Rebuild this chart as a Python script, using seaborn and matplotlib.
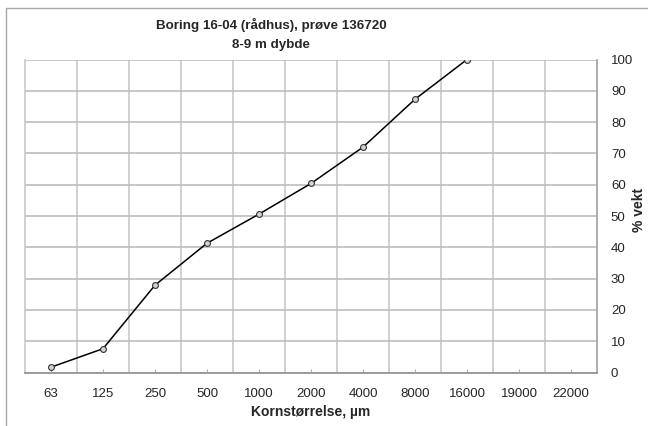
import matplotlib
matplotlib.use("Agg")
import matplotlib.pyplot as plt
import seaborn as sns
import pandas as pd
from matplotlib.patches import Rectangle

sns.set_theme(style="white")
plt.rcParams["font.family"] = ["Liberation Sans", "DejaVu Sans"]

# Sieve sizes (µm) shown on the category axis
sizes = ["63", "125", "250", "500", "1000", "2000", "4000", "8000", "16000", "19000", "22000"]
# Cumulative weight passing (%) for the measured sieves
passing = [1.7, 7.6, 27.9, 41.3, 50.6, 60.4, 72.0, 87.3, 100.0]

df = pd.DataFrame({"pos": list(range(len(passing))), "passing": passing})

fig = plt.figure(figsize=(6.48, 4.26), dpi=100)
ax = fig.add_axes([25 / 648, 1 - 372.5 / 426, (597 - 25) / 648, (372.5 - 59.5) / 426])

sns.lineplot(data=df, x="pos", y="passing", ax=ax, color="black", linewidth=1.1,
             marker="o", markersize=4.2, markerfacecolor="#d4d4d4",
             markeredgecolor="#333333", markeredgewidth=0.8)

ax.set_xlim(-0.5, len(sizes) - 0.5)
ax.set_ylim(0, 100)
ax.set_xticks(range(len(sizes)))
ax.set_xticklabels(sizes)
ax.set_xticks([i + 0.5 for i in range(len(sizes) - 1)], minor=True)
ax.set_yticks(range(0, 101, 10))

ax.yaxis.tick_right()
ax.grid(False)
ax.grid(True, which="minor", axis="x", color="#c8c8c8", linewidth=1.2)
ax.grid(True, which="major", axis="y", color="#bdbdbd", linewidth=1.2)
ax.set_axisbelow(True)

ax.tick_params(axis="x", which="major", direction="in", length=3, width=0.8,
               color="#b0b0b0", labelsize=9.5, pad=11, bottom=True)
ax.tick_params(axis="x", which="minor", length=0)
ax.tick_params(axis="y", which="major", length=0, labelsize=9.5, pad=10, right=True, left=False)

for name, sp in ax.spines.items():
    sp.set_visible(True)
    sp.set_color("#c8c8c8")
    sp.set_linewidth(1.2)
ax.spines["top"].set_visible(False)
ax.spines["bottom"].set_color("#909090")
ax.spines["right"].set_color("#a0a0a0")

ax.set_xlabel("Kornstørrelse, µm", fontsize=10, fontweight="bold", labelpad=4)
ax.set_ylabel("")
fig.text(639 / 648, 1 - 210 / 426, "% vekt", rotation=90, ha="center", va="center",
         fontsize=10, fontweight="bold")

fig.text(271 / 648, 1 - 25 / 426, "Boring 16-04 (rådhus), prøve 136720",
         ha="center", va="center", fontsize=9.6, fontweight="bold")
fig.text(271 / 648, 1 - 45 / 426, "8-9 m dybde",
         ha="center", va="center", fontsize=9.6, fontweight="bold")

# Chart frame
fig.patches.append(Rectangle((6 / 648, -0.1), 1.2, 1 - 8 / 426 + 0.1,
                             transform=fig.transFigure, fill=False,
                             edgecolor="#a8a8a8", linewidth=1.0))

fig.savefig("out.png", dpi=100)
